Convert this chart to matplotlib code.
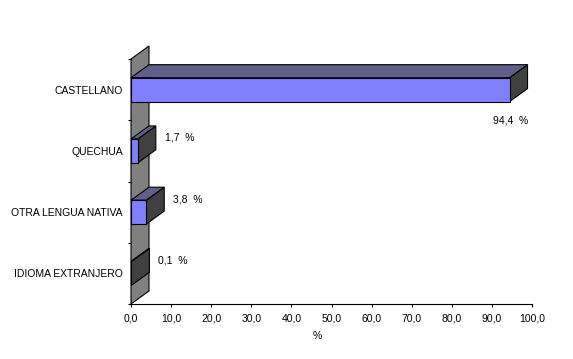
import numpy as np
import matplotlib
matplotlib.use('Agg')
import matplotlib.pyplot as plt
from matplotlib.patches import Polygon

plt.rcParams['font.family'] = ['Liberation Sans', 'DejaVu Sans']
plt.rcParams['font.size'] = 7.5

# datos
idiomas = ['CASTELLANO', 'QUECHUA', 'OTRA LENGUA NATIVA', 'IDIOMA EXTRANJERO']
porcentajes = [94.4, 1.7, 3.8, 0.1]
etiquetas = ['94,4  %', '1,7  %', '3,8  %', '0,1  %']
xticks = np.arange(0, 101, 10)
xticklabels = ['%.1f' % v for v in xticks]
xticklabels = [s.replace('.', ',') for s in xticklabels]

# colores estilo excel
c_front = '#8080FF'
c_top = '#5F5F8A'
c_side = '#404040'
c_wall = '#808080'

W, H = 573, 359
fig = plt.figure(figsize=(W / 100, H / 100), dpi=100)
ax_l, ax_b, ax_w, ax_h = 131, 55, 401, 245
ax = fig.add_axes([ax_l / W, ax_b / H, ax_w / W, ax_h / H])

ax.set_xlim(0, 100)
ax.set_ylim(3.5, -0.5)

# profundidad 3D en unidades de datos
dx = 18 * 100 / ax_w
dy = 13 * 4 / ax_h
bh = 0.39
lw = 0.8

# pared del fondo
wall = Polygon([(0, 3.5), (0, -0.5), (dx, -0.5 - dy), (dx, 3.5 - dy)],
               closed=True, fc=c_wall, ec='black', lw=lw, clip_on=False, zorder=1)
ax.add_patch(wall)

ypos = np.arange(len(idiomas))
for y, v in zip(ypos, porcentajes):
    top = y - bh / 2
    bot = y + bh / 2
    side = Polygon([(v, top), (v, bot), (v + dx, bot - dy), (v + dx, top - dy)],
                   closed=True, fc=c_side, ec='black', lw=lw, clip_on=False, zorder=3)
    ax.add_patch(side)
    tp = Polygon([(0, top), (v, top), (v + dx, top - dy), (dx, top - dy)],
                 closed=True, fc=c_top, ec='black', lw=lw, clip_on=False, zorder=3)
    ax.add_patch(tp)

ax.barh(ypos, porcentajes, height=bh, color=c_front, edgecolor='black', linewidth=lw, zorder=4)

# etiquetas de valores
for y, v, s in zip(ypos, porcentajes, etiquetas):
    if v > 50:
        ax.annotate(s, (v, y + bh / 2), xytext=(1, -14), textcoords='offset pixels',
                    ha='center', va='top')
    else:
        ax.annotate(s, (v + dx, y - dy), xytext=(9, 0), textcoords='offset pixels',
                    ha='left', va='center')

ax.set_xticks(xticks)
ax.set_xticklabels(xticklabels)
ax.set_yticks(ypos)
ax.set_yticklabels(idiomas)
ax.set_yticks(np.arange(-0.5, 3.6, 1), minor=True)
ax.tick_params(axis='y', which='major', length=0, pad=5.8)
ax.tick_params(axis='y', which='minor', length=2.2, width=0.8, direction='out')
ax.tick_params(axis='x', length=2.2, width=0.8, pad=4.5)

for sp in ['top', 'right', 'left']:
    ax.spines[sp].set_visible(False)
ax.spines['bottom'].set_linewidth(0.8)

ax.set_xlabel('%')
ax.xaxis.set_label_coords(0.464, -0.11)
ax.xaxis.label.set_va('top')

plt.savefig('out.png', dpi=100)
